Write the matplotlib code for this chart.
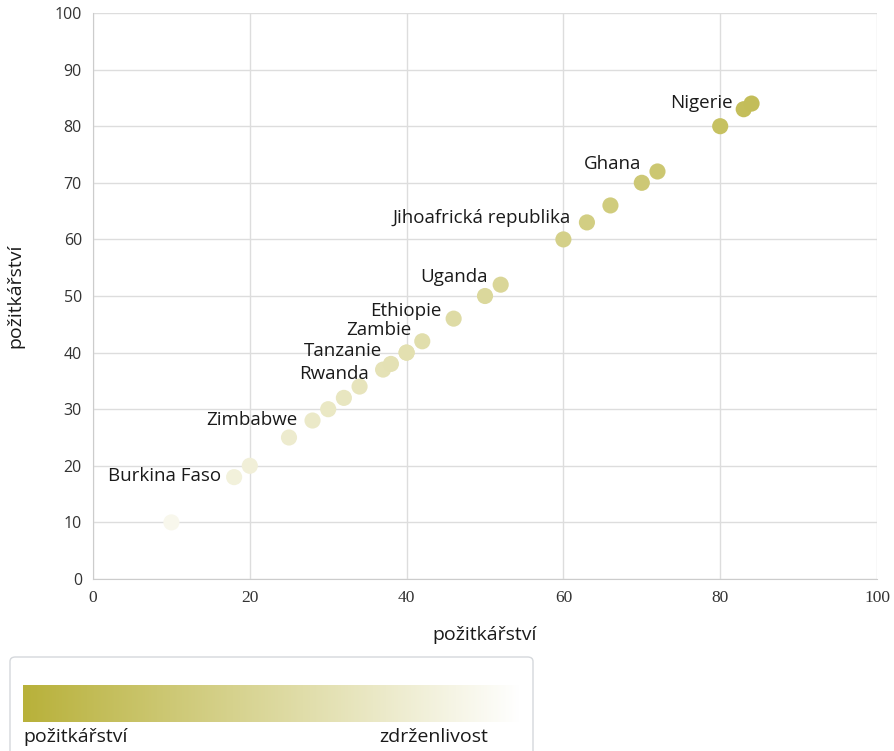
import matplotlib.pyplot as plt
import numpy as np
from matplotlib.colors import LinearSegmentedColormap
from matplotlib.patches import FancyBboxPatch

# data
x = [10, 18, 20, 25, 28, 30, 32, 34, 37, 38, 40, 40, 42, 46, 50, 52,
     60, 63, 66, 70, 72, 80, 83, 84]
y = [10, 18, 20, 25, 28, 30, 32, 34, 37, 38, 40, 40, 42, 46, 50, 52,
     60, 63, 66, 70, 72, 80, 83, 84]

labels = ["Nigerie", "Ghana", "Jihoafrická republika", "Uganda", "Ethiopie",
          "Zambie", "Tanzanie", "Rwanda", "Zimbabwe", "Burkina Faso"]
label_idx = [23, 20, 17, 15, 13, 12, 9, 8, 4, 1]
# posun popisku v pixelech (dx, dy)
label_off = [(-19, 1), (-16, 7), (-16, 4), (-13, 8), (-12, 8),
             (-11, 11), (-9, 13), (-14, -4), (-15, 1), (-13, 1)]

olive = "#b8b13a"
cmap = LinearSegmentedColormap.from_list("olive", ["white", olive])

plt.rcParams['font.family'] = ['Open Sans', 'DejaVu Sans']
fig = plt.figure(figsize=(8.94, 7.51), dpi=100)
ax = fig.add_axes([93/894, 1 - 579/751, 784/894, 566/751])

ax.scatter(x, y, c=y, cmap=cmap, vmin=0, vmax=100, s=135,
           edgecolors='none', zorder=3)

for lab, i, (dx, dy) in zip(labels, label_idx, label_off):
    ax.annotate(lab, (x[i], y[i]), xytext=(dx * 0.72, dy * 0.72),
                textcoords='offset points', ha='right', va='center',
                fontsize=13.5, color='#1a1a1a', zorder=4)

ax.set_xlim(0, 100)
ax.set_ylim(0, 100)
ax.set_xticks(range(0, 101, 20))
ax.set_yticks(range(0, 101, 10))
ax.grid(True, color='#dddddd', linewidth=1)
ax.set_axisbelow(True)
for s in ['top', 'right']:
    ax.spines[s].set_visible(False)
for s in ['left', 'bottom']:
    ax.spines[s].set_color('#cccccc')
ax.tick_params(length=0, pad=8)
for t in ax.get_xticklabels():
    t.set_family('Liberation Serif')
    t.set_fontsize(12.5)
    t.set_color('#333333')
for t in ax.get_yticklabels():
    t.set_fontsize(11.5)
    t.set_color('#333333')
ax.set_xlabel("požitkářství", fontsize=14, color='#1a1a1a', labelpad=14)
ax.set_ylabel("požitkářství", fontsize=14, color='#1a1a1a', labelpad=22)

# legenda s gradientem
box = FancyBboxPatch((10/894, -0.02), 523/894, 1 - 657/751 + 0.02,
                     boxstyle="round,pad=0,rounding_size=0.006",
                     transform=fig.transFigure, facecolor='white',
                     edgecolor='#d5d8dc', linewidth=1, zorder=-1)
fig.patches.append(box)
lax = fig.add_axes([23/894, 1 - 722/751, 497/894, 37/751])
lax.set_zorder(2)
grad = np.linspace(1, 0, 256).reshape(1, -1)
lax.imshow(grad, cmap=cmap, vmin=0, vmax=1, aspect='auto')
lax.axis('off')
fig.text(23/894, 1 - 737/751, "požitkářství", fontsize=14, va='center',
         ha='left', color='#1a1a1a')
fig.text(488/894, 1 - 737/751, "zdrženlivost", fontsize=14, va='center',
         ha='right', color='#1a1a1a')

fig.savefig("out.png", dpi=100)
